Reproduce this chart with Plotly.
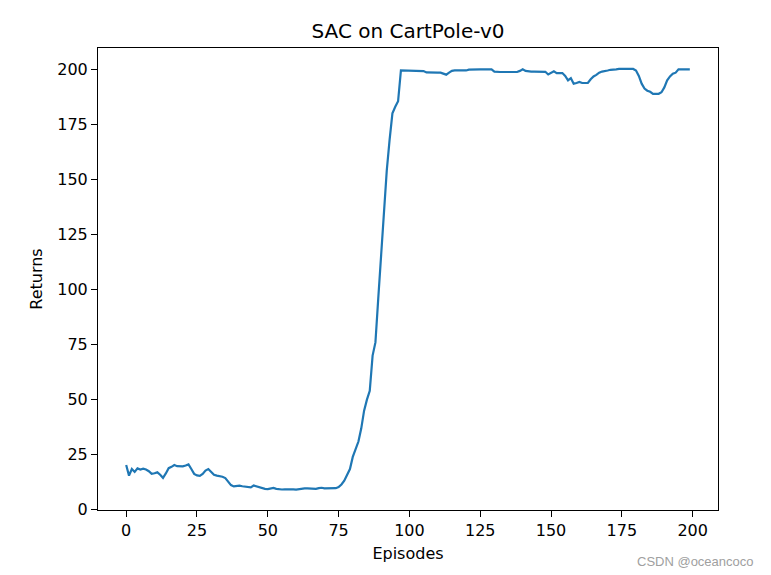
import plotly.graph_objects as go

episodes = list(range(200))

returns_0_49 = [20.3, 15.5, 18.5, 17.2, 18.8, 18.3, 18.7, 18.3, 17.5, 16.3,
                16.6, 17.0, 15.9, 14.5, 16.5, 18.9, 19.5, 20.3, 19.8, 19.8,
                19.7, 20.1, 20.6, 18.5, 16.3, 15.6, 15.4, 16.3, 17.8, 18.5,
                17.2, 15.9, 15.5, 15.3, 15.0, 14.4, 12.5, 11.2, 10.6, 10.8,
                11.0, 10.7, 10.6, 10.6, 10.2, 11.0, 10.6, 10.2, 9.8, 9.5]
returns_50_99 = [9.4, 9.6, 9.9, 9.5, 9.3, 9.2, 9.3, 9.4, 9.5, 9.3,
                 9.2, 9.4, 9.7, 9.7, 9.7, 9.6, 9.6, 9.5, 9.8, 10.0,
                 9.7, 9.8, 9.7, 9.7, 9.8, 10.3, 11.5, 13.2, 15.5, 18.5,
                 24.0, 28.0, 31.0, 37.0, 45.0, 50.0, 54.0, 70.0, 76.0, 96.0,
                 117.0, 137.0, 154.0, 168.0, 180.0, 183.0, 185.5, 199.5, 199.5, 199.5]
returns_100_149 = [199.5, 199.5, 199.5, 199.5, 199.5, 199.2, 198.6, 198.5, 198.5, 198.5,
                   198.5, 198.5, 198.0, 197.6, 198.5, 199.3, 199.5, 199.5, 199.5, 199.5,
                   199.5, 199.9, 200.0, 200.0, 200.0, 200.0, 200.0, 200.0, 200.3, 200.0,
                   199.0, 198.8, 198.8, 198.8, 198.8, 198.8, 198.8, 198.8, 198.8, 199.3,
                   200.0, 199.3, 199.0, 199.0, 199.0, 199.0, 199.0, 199.0, 198.9, 197.7]
returns_150_199 = [198.5, 199.1, 198.3, 198.3, 198.3, 197.0, 195.0, 196.0, 193.5, 193.8,
                   194.3, 193.8, 193.8, 193.8, 195.5, 196.8, 197.5, 198.5, 199.0, 199.1,
                   199.5, 199.8, 199.8, 200.0, 200.2, 200.2, 200.2, 200.2, 200.2, 200.2,
                   199.5, 197.0, 193.5, 191.3, 190.3, 189.8, 188.9, 188.9, 188.9, 189.6,
                   191.8, 195.0, 196.8, 198.0, 198.5, 200.0, 200.0, 200.0, 200.0, 200.0]
returns = returns_0_49 + returns_50_99 + returns_100_149 + returns_150_199

tick_vals = [0, 25, 50, 75, 100, 125, 150, 175, 200]

fig = go.Figure()
fig.add_trace(go.Scatter(x=episodes, y=returns, mode="lines",
                         line=dict(color="#1f77b4", width=2.2)))

axis_common = dict(showline=True, mirror=True, linecolor="black", linewidth=1,
                   ticks="outside", ticklen=6, tickcolor="black", tickwidth=1,
                   showgrid=False, zeroline=False,
                   tickfont=dict(family="DejaVu Sans", size=16, color="black"))

fig.update_layout(
    width=771, height=575,
    margin=dict(l=98, r=53, t=48, b=65),
    paper_bgcolor="white", plot_bgcolor="white",
    showlegend=False,
    title=dict(text="SAC on CartPole-v0", x=0.5292, xanchor="center",
               y=1 - 38 / 575, yanchor="bottom",
               font=dict(family="DejaVu Sans", size=20, color="black")),
    xaxis=dict(range=[-9.95, 208.95], tickvals=tick_vals,
               title=dict(text="Episodes", standoff=8,
                          font=dict(family="DejaVu Sans", size=16, color="black")),
               **axis_common),
    yaxis=dict(range=[-0.1, 209.7], tickvals=tick_vals,
               title=dict(text="Returns", standoff=10,
                          font=dict(family="DejaVu Sans", size=16, color="black")),
               **axis_common),
)

fig.add_annotation(text="CSDN @oceancoco", xref="paper", yref="paper",
                   x=1 + 38 / 620, y=-51 / 462, showarrow=False,
                   xanchor="right", yanchor="middle",
                   font=dict(family="Liberation Sans", size=13, color="#a0a0a0"))

fig.write_html("out.html")
